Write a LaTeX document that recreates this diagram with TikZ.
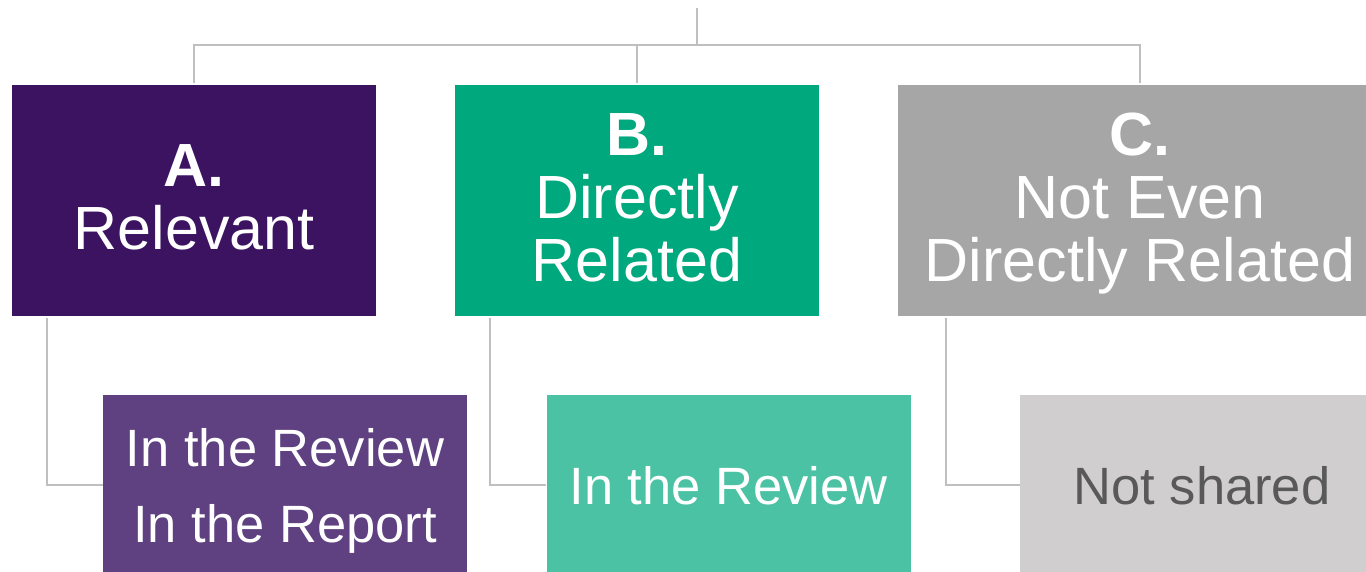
\documentclass[tikz,border=0pt]{standalone}
\usepackage{fontspec}
\setmainfont{Liberation Sans}
\usepackage{xcolor}

\definecolor{relpurple}{HTML}{3C1361}
\definecolor{relgreen}{HTML}{00A87E}
\definecolor{relgray}{HTML}{A6A6A6}
\definecolor{subpurple}{HTML}{5F4080}
\definecolor{subgreen}{HTML}{4CC2A4}
\definecolor{subgray}{HTML}{D0CECE}
\definecolor{darktext}{HTML}{595959}
\definecolor{linegray}{HTML}{BFBFBF}

\begin{document}
\begin{tikzpicture}[x=1pt, y=-1pt,
    topbox/.style={inner sep=0pt, minimum width=364pt, minimum height=231pt,
        align=center, text=white, text depth=6pt, font=\fontsize{61}{63}\selectfont},
    subbox/.style={inner sep=0pt, minimum width=364pt, minimum height=180pt,
        align=center, text=white, text depth=0pt, font=\fontsize{52.5}{76}\selectfont},
    link/.style={draw=linegray, line width=2pt}]
        \clip (0,0) rectangle (1366,571);

        % categories
        \node[topbox, fill=relpurple] (boxA) at (194,200.5) {\textbf{A.}\\Relevant};
        \node[topbox, fill=relgreen] (boxB) at (637,200.5) {\textbf{B.}\\Directly\\Related};
        \node[topbox, fill=relgray, minimum width=484pt] (boxC) at (1140,200.5) {\textbf{C.}\\Not Even\\Directly Related};

        % what happens to each
        \node[subbox, fill=subpurple] (subA) at (285,485) {In the Review\\In the Report};
        \node[subbox, fill=subgreen] (subB) at (728.5,485) {In the Review};
        \node[subbox, fill=subgray, text=darktext] (subC) at (1202,485) {Not shared};

        % tree lines
        \coordinate (root) at (697,8);
        \coordinate (hub) at (697,45);
        \draw[link] (root) -- (hub);
        \draw[link] ([yshift=2pt]boxA.north) |- (hub) -| ([yshift=2pt]boxC.north);
        \draw[link] (hub -| boxB.north) -- ([yshift=2pt]boxB.north);

        \draw[link] ([xshift=35pt, yshift=-2pt]boxA.south west) |- (subA.west);
        \draw[link] ([xshift=35pt, yshift=-2pt]boxB.south west) |- (subB.west);
        \draw[link] ([xshift=48pt, yshift=-2pt]boxC.south west) |- (subC.west);
    \end{tikzpicture}
\end{document}
